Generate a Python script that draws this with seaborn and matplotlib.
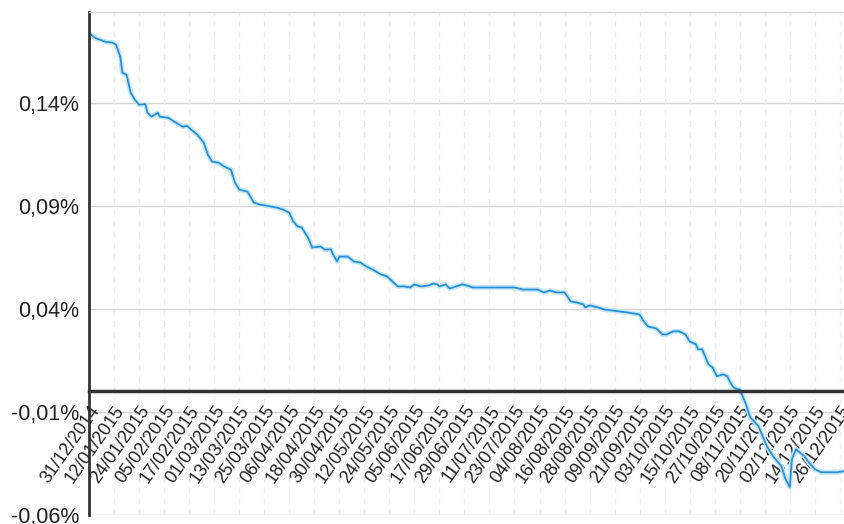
import pandas as pd
import matplotlib
matplotlib.use("Agg")
import matplotlib.pyplot as plt
import seaborn as sns

# --- data (value in %) ---
dates = [
    "2014-12-31", "2015-01-03", "2015-01-08", "2015-01-11", "2015-01-13", "2015-01-15",
    "2015-01-16", "2015-01-18", "2015-01-20", "2015-01-22", "2015-01-24", "2015-01-27",
    "2015-01-28", "2015-01-30", "2015-02-02", "2015-02-03", "2015-02-07", "2015-02-10",
    "2015-02-14", "2015-02-16", "2015-02-18", "2015-02-21", "2015-02-24", "2015-02-26",
    "2015-02-28", "2015-03-03", "2015-03-06", "2015-03-09", "2015-03-11", "2015-03-13",
    "2015-03-17", "2015-03-20", "2015-03-23", "2015-03-26", "2015-03-31", "2015-04-03",
    "2015-04-06", "2015-04-08", "2015-04-10", "2015-04-12", "2015-04-15", "2015-04-17",
    "2015-04-21", "2015-04-23", "2015-04-26", "2015-04-27", "2015-04-29", "2015-04-30",
    "2015-05-04", "2015-05-07", "2015-05-10", "2015-05-13", "2015-05-16", "2015-05-20",
    "2015-05-23", "2015-05-26", "2015-05-28", "2015-05-31", "2015-06-03", "2015-06-05",
    "2015-06-08", "2015-06-12", "2015-06-14", "2015-06-16", "2015-06-17", "2015-06-20",
    "2015-06-22", "2015-06-25", "2015-06-28", "2015-06-30", "2015-07-03", "2015-07-10",
    "2015-07-16", "2015-07-23", "2015-07-27", "2015-08-03", "2015-08-06", "2015-08-09",
    "2015-08-12", "2015-08-16", "2015-08-19", "2015-08-22", "2015-08-25", "2015-08-26",
    "2015-08-28", "2015-09-01", "2015-09-04", "2015-09-08", "2015-09-15", "2015-09-21",
    "2015-09-23", "2015-09-25", "2015-09-29", "2015-10-02", "2015-10-04", "2015-10-07",
    "2015-10-10", "2015-10-13", "2015-10-15", "2015-10-18", "2015-10-19", "2015-10-21",
    "2015-10-24", "2015-10-26", "2015-10-28", "2015-10-31", "2015-11-02", "2015-11-04",
    "2015-11-05", "2015-11-07", "2015-11-08", "2015-11-11", "2015-11-13", "2015-11-17",
    "2015-11-19", "2015-11-21", "2015-11-24", "2015-11-28", "2015-11-30", "2015-12-02",
    "2015-12-03", "2015-12-05", "2015-12-06", "2015-12-09", "2015-12-11", "2015-12-14",
    "2015-12-17", "2015-12-22", "2015-12-25", "2015-12-28",
]
values = [
    0.1741, 0.1716, 0.1697, 0.1695, 0.1683, 0.1624,
    0.1547, 0.1537, 0.1450, 0.1416, 0.1392, 0.1395,
    0.1353, 0.1334, 0.1353, 0.1334, 0.1329, 0.1309,
    0.1285, 0.1290, 0.1271, 0.1246, 0.1208, 0.1149,
    0.1116, 0.1111, 0.1091, 0.1077, 0.1014, 0.0980,
    0.0970, 0.0917, 0.0907, 0.0902, 0.0893, 0.0883,
    0.0868, 0.0825, 0.0801, 0.0796, 0.0747, 0.0699,
    0.0704, 0.0689, 0.0690, 0.0665, 0.0631, 0.0655,
    0.0655, 0.0631, 0.0626, 0.0607, 0.0592, 0.0568,
    0.0558, 0.0529, 0.0510, 0.0510, 0.0505, 0.0520,
    0.0510, 0.0515, 0.0524, 0.0520, 0.0510, 0.0520,
    0.0500, 0.0510, 0.0520, 0.0515, 0.0505, 0.0505,
    0.0505, 0.0505, 0.0495, 0.0495, 0.0481, 0.0490,
    0.0481, 0.0481, 0.0437, 0.0432, 0.0423, 0.0408,
    0.0418, 0.0408, 0.0398, 0.0393, 0.0384, 0.0374,
    0.0340, 0.0316, 0.0306, 0.0277, 0.0277, 0.0292,
    0.0292, 0.0277, 0.0243, 0.0229, 0.0205, 0.0205,
    0.0132, 0.0117, 0.0074, 0.0083, 0.0074, 0.0035,
    0.0020, 0.0011, 0.0011, -0.0062, -0.0125, -0.0169,
    -0.0217, -0.0266, -0.0314, -0.0363, -0.0426, -0.0464,
    -0.0329, -0.0280, -0.0290, -0.0314, -0.0343, -0.0377,
    -0.0392, -0.0392, -0.0392, -0.0387,
]
y_ticks = [0.14, 0.09, 0.04, -0.01, -0.06]
tick_start = "2014-12-31"
tick_count = 31
tick_step = "12D"

df = pd.DataFrame({"date": pd.to_datetime(dates), "value": values})
x_ticks = pd.date_range(tick_start, periods=tick_count, freq=tick_step)

sns.set_style("white")
plt.rcParams["font.family"] = ["Liberation Sans", "DejaVu Sans"]

fig = plt.figure(figsize=(8.44, 5.24), dpi=100)
ax = fig.add_axes([0.1055, 0.017, 0.8945, 0.960])

# soft halo under the line, then the line itself
sns.lineplot(data=df, x="date", y="value", ax=ax, color="#c4e7fa", linewidth=3.5)
sns.lineplot(data=df, x="date", y="value", ax=ax, color="#2b90d9", linewidth=1.3)

ax.set_xlim(df["date"].iloc[0], df["date"].iloc[-1])
ax.set_ylim(-0.06, 0.1842)

# spines first: moving a spine resets the ticks
ax.spines["right"].set_visible(False)
ax.spines["top"].set_color("#d4d4d4")
ax.spines["top"].set_linewidth(1.0)
ax.spines["left"].set_color("#333333")
ax.spines["left"].set_linewidth(2.0)
ax.spines["bottom"].set_position(("data", 0))
ax.spines["bottom"].set_color("#333333")
ax.spines["bottom"].set_linewidth(2.5)

ax.set_xticks(x_ticks)
ax.set_xticklabels([d.strftime("%d/%m/%Y") for d in x_ticks],
                   rotation=55, ha="right", va="top", rotation_mode="anchor",
                   fontsize=13, color="#222222")
ax.set_yticks(y_ticks)
ax.set_yticklabels([f"{v:.2f}%".replace(".", ",") for v in y_ticks],
                   fontsize=15.5, color="#222222")

# grid: solid horizontal, dashed vertical
for v in y_ticks:
    ax.axhline(v, color="#d4d4d4", linewidth=1.0, zorder=0)
for d in x_ticks:
    ax.axvline(d, color="#ececec", linewidth=1.0, linestyle=(0, (4, 4)), zorder=0)

ax.tick_params(axis="x", direction="out", length=5, width=1.5, color="#333333", pad=3)
ax.tick_params(axis="y", direction="out", length=4, width=1.5, color="#333333", pad=3)
ax.set_xlabel("")
ax.set_ylabel("")

fig.savefig("out.png", dpi=100)
